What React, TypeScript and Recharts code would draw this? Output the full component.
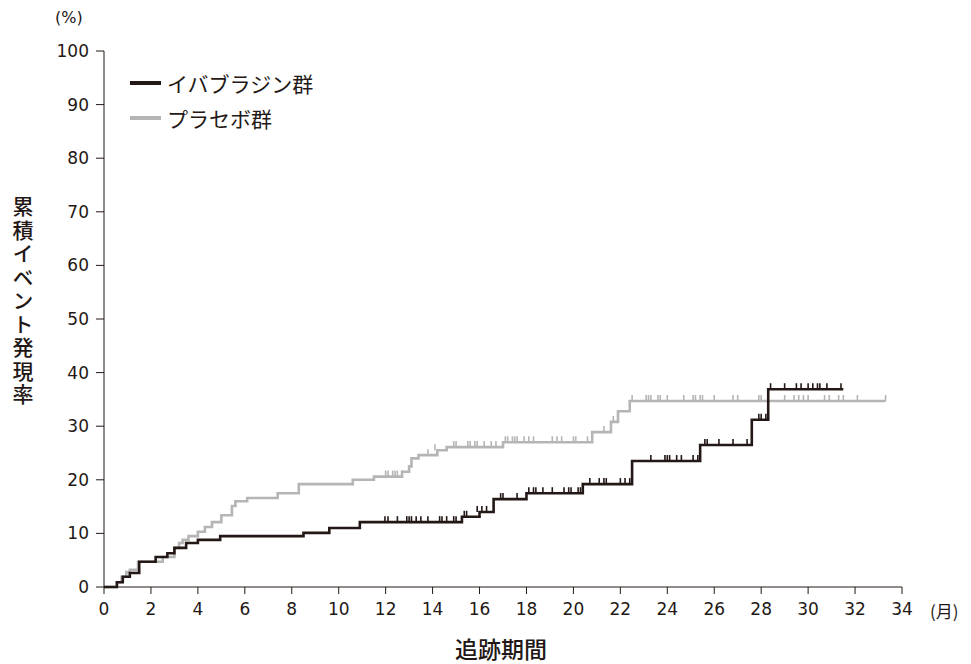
import React from "react";
import { ComposedChart, Line, Scatter, XAxis, YAxis } from "recharts";

// Step curves (month, cumulative %)
const ivabMonths = [0, 0.55, 0.8, 1.1, 1.5, 2.2, 2.7, 3.0, 3.5, 4.0, 4.95, 8.5, 9.6, 10.9, 15.25, 16.0, 16.6, 18.0, 20.4, 22.5, 25.4, 27.6, 28.3, 31.5];
const ivabRates = [0, 0.9, 1.9, 2.6, 4.7, 5.6, 6.3, 7.3, 8.2, 8.8, 9.5, 10.1, 11.0, 12.1, 13.1, 14.0, 16.4, 17.5, 19.2, 23.5, 26.5, 31.2, 36.9, 36.9];

const placMonths = [0, 0.55, 0.75, 0.95, 1.1, 1.45, 2.5, 3.0, 3.2, 3.35, 3.6, 4.0, 4.3, 4.6, 5.0, 5.45, 5.6, 6.1, 7.4, 8.3, 10.6, 11.5, 12.7, 13.0, 13.1, 13.4, 14.2, 14.6, 17.0, 20.8, 21.6, 21.9, 22.4, 33.3];
const placRates = [0, 0.9, 1.9, 2.8, 3.2, 4.7, 5.6, 7.3, 8.2, 8.8, 9.5, 10.3, 11.2, 12.1, 13.4, 15.1, 16.0, 16.6, 17.5, 19.2, 20.0, 20.6, 21.5, 22.5, 24.0, 24.6, 25.5, 26.1, 27.0, 28.9, 30.8, 32.8, 34.7, 34.7];

// Censored observations (month, %)
const ivabCensorMonths = [11.97, 12.1, 12.5, 12.9, 13.0, 13.1, 13.3, 13.5, 13.8, 14.3, 14.4, 14.6, 14.9, 15.0, 15.35, 15.45, 15.9, 16.1, 16.3, 16.9, 17.0, 17.6, 18.1, 18.3, 18.4, 18.7, 19.1, 19.6, 19.8, 19.9, 20.2, 20.3, 20.7, 21.1, 21.3, 21.4, 22.0, 22.2, 22.4, 23.3, 23.9, 24.0, 24.1, 24.4, 24.6, 25.1, 25.3, 25.6, 25.7, 26.2, 26.8, 27.4, 27.9, 28.0, 28.2, 28.4, 29.0, 29.5, 29.7, 30.0, 30.2, 30.4, 30.5, 30.8, 31.4];
const ivabCensorRates = [12.1, 12.1, 12.1, 12.1, 12.1, 12.1, 12.1, 12.1, 12.1, 12.1, 12.1, 12.1, 12.1, 12.1, 13.1, 13.1, 14.0, 14.0, 14.0, 16.4, 16.4, 16.4, 17.5, 17.5, 17.5, 17.5, 17.5, 17.5, 17.5, 17.5, 17.5, 17.5, 19.2, 19.2, 19.2, 19.2, 19.2, 19.2, 19.2, 23.5, 23.5, 23.5, 23.5, 23.5, 23.5, 23.5, 23.5, 26.5, 26.5, 26.5, 26.5, 26.5, 31.2, 31.2, 31.2, 36.9, 36.9, 36.9, 36.9, 36.9, 36.9, 36.9, 36.9, 36.9, 36.9];

const placCensorMonths = [12.0, 12.1, 12.3, 12.4, 12.5, 12.7, 13.8, 14.1, 14.9, 15.0, 15.5, 15.6, 15.8, 15.9, 16.2, 16.5, 16.7, 17.1, 17.2, 17.4, 17.5, 17.6, 17.9, 18.1, 18.3, 19.1, 19.3, 19.5, 20.0, 20.1, 20.6, 20.8, 21.3, 21.7, 22.5, 23.1, 23.2, 23.3, 23.6, 23.7, 24.0, 24.7, 25.1, 25.2, 25.4, 25.5, 26.0, 26.8, 27.0, 27.9, 28.0, 29.0, 29.4, 29.6, 29.8, 30.0, 30.7, 30.9, 31.3, 31.5, 32.1, 33.3];
const placCensorRates = [20.6, 20.6, 20.6, 20.6, 20.6, 20.6, 24.6, 25.5, 26.1, 26.1, 26.1, 26.1, 26.1, 26.1, 26.1, 26.1, 26.1, 27.0, 27.0, 27.0, 27.0, 27.0, 27.0, 27.0, 27.0, 27.0, 27.0, 27.0, 27.0, 27.0, 27.0, 27.0, 28.9, 30.8, 34.7, 34.7, 34.7, 34.7, 34.7, 34.7, 34.7, 34.7, 34.7, 34.7, 34.7, 34.7, 34.7, 34.7, 34.7, 34.7, 34.7, 34.7, 34.7, 34.7, 34.7, 34.7, 34.7, 34.7, 34.7, 34.7, 34.7, 34.7];

const xTicks = [0, 2, 4, 6, 8, 10, 12, 14, 16, 18, 20, 22, 24, 26, 28, 30, 32, 34];
const yTicks = [0, 10, 20, 30, 40, 50, 60, 70, 80, 90, 100];

const seriesNames = ["イバブラジン群", "プラセボ群"];
const BLACK = "#231815";
const GRAY = "#b5b5b5";
const FONT = '"Noto Sans CJK JP", "Noto Sans", sans-serif';
const NUMFONT = '"DejaVu Sans", "Noto Sans", sans-serif';

const zip = (xs: number[], ys: number[]) => xs.map((x, i) => ({ x, y: ys[i] }));
const ivabData = zip(ivabMonths, ivabRates);
const placData = zip(placMonths, placRates);
const ivabCensor = zip(ivabCensorMonths, ivabCensorRates);
const placCensor = zip(placCensorMonths, placCensorRates);

const makeTick = (color: string) => (props: any) => {
  const { cx, cy } = props;
  if (cx == null || cy == null) return <g />;
  return <line x1={cx} x2={cx} y1={cy} y2={cy - 6} stroke={color} strokeWidth={1.6} />;
};

export default function App() {
  return (
    <div style={{ position: "relative", width: 955, height: 654, fontFamily: FONT, color: BLACK }}>
      <ComposedChart
        width={955}
        height={650}
        margin={{ top: 43, right: 61, bottom: 41, left: 0 }}
        style={{ fontFamily: NUMFONT }}
      >
        <XAxis
          type="number"
          dataKey="x"
          domain={[0, 34]}
          ticks={xTicks}
          interval={0}
          allowDataOverflow
          height={30}
          tickSize={7}
          tickMargin={9}
          stroke={BLACK}
          tick={{ fill: BLACK, fontSize: 17, fontFamily: NUMFONT }}
          axisLine={{ stroke: BLACK, strokeWidth: 1 }}
        />
        <YAxis
          type="number"
          dataKey="y"
          domain={[0, 100]}
          ticks={yTicks}
          interval={0}
          width={96}
          tickSize={8}
          tickMargin={7}
          stroke={BLACK}
          tick={{ fill: BLACK, fontSize: 17, fontFamily: NUMFONT }}
          axisLine={{ stroke: BLACK, strokeWidth: 1 }}
        />
        <Line
          data={placData}
          dataKey="y"
          type="stepAfter"
          stroke={GRAY}
          strokeWidth={2.6}
          dot={false}
          activeDot={false}
          isAnimationActive={false}
        />
        <Line
          data={ivabData}
          dataKey="y"
          type="stepAfter"
          stroke={BLACK}
          strokeWidth={2.6}
          dot={false}
          activeDot={false}
          isAnimationActive={false}
        />
        <Scatter data={placCensor} dataKey="y" shape={makeTick(GRAY)} isAnimationActive={false} legendType="none" />
        <Scatter data={ivabCensor} dataKey="y" shape={makeTick(BLACK)} isAnimationActive={false} legendType="none" />
      </ComposedChart>

      {/* legend */}
      {seriesNames.map((name, i) => (
        <div
          key={name}
          style={{
            position: "absolute",
            left: 122,
            top: 61 + i * 35,
            height: 28,
            display: "flex",
            alignItems: "center",
            fontSize: 21,
          }}
        >
          <span style={{ display: "inline-block", width: 31, height: 4, background: i === 0 ? BLACK : GRAY, marginRight: 6 }} />
          <span>{name}</span>
        </div>
      ))}

      <div style={{ position: "absolute", left: 47, top: 0, fontSize: 16, fontFamily: NUMFONT }}>(%)</div>
      <div style={{ position: "absolute", left: 922, top: 590, fontSize: 17 }}>(月)</div>
      <div
        style={{
          position: "absolute",
          left: 3,
          top: 188,
          fontSize: 21,
          fontWeight: 500,
          writingMode: "vertical-rl",
          letterSpacing: 2.5,
          lineHeight: "24px",
        }}
      >
        累積イベント発現率
      </div>
      <div style={{ position: "absolute", left: 447, top: 628, fontSize: 23, fontWeight: 500, lineHeight: "24px", height: 24 }}>追跡期間</div>
    </div>
  );
}
